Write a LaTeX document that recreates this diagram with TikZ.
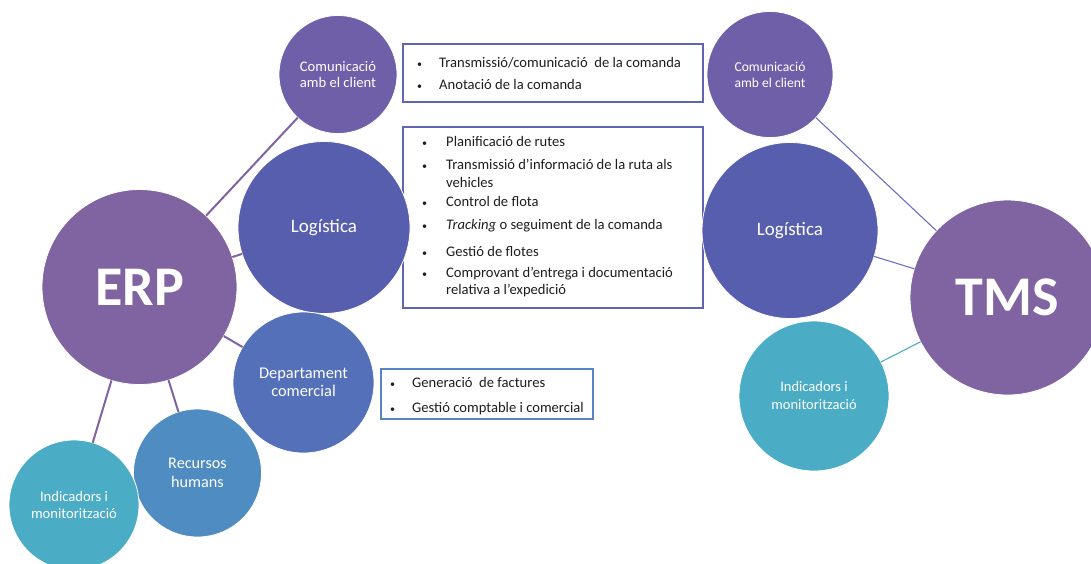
\documentclass[tikz,border=0pt]{standalone}
\usepackage{fontspec}
\setmainfont{Carlito}
\definecolor{cPurple}{HTML}{8064A2}
\definecolor{cComm}{HTML}{6F5FA8}
\definecolor{cLog}{HTML}{585EAE}
\definecolor{cDept}{HTML}{5470B9}
\definecolor{cHR}{HTML}{4F8CC1}
\definecolor{cInd}{HTML}{4BACC6}
\definecolor{cBoxA}{HTML}{5F64B4}
\definecolor{cBoxB}{HTML}{5B82C2}
\definecolor{cText}{HTML}{1E1E1E}
\definecolor{cLineT}{HTML}{6C6EC0}
\newcommand{\fs}[2]{\fontsize{#1}{#2}\selectfont}
\begin{document}
\begin{tikzpicture}[x=1pt,y=-1pt,
  bubble/.style={circle, inner sep=0pt, outer sep=0pt, draw=white,
    line width=0.8pt, text=white, align=center},
  bigword/.style={font=\fs{56}{60}\bfseries},
  infobox/.style={draw, line width=1.5pt, fill=white, anchor=north west,
    inner sep=0pt, outer sep=0pt},
  item/.style={anchor=west, inner sep=0pt, text=cText, font=\fs{14.6}{16},
    text height=9.4pt, text depth=0pt},
  dot/.style={anchor=west, inner sep=0pt, text=cText, font=\fs{10}{10},
    text height=7pt, text depth=0pt, yshift=-1.3pt},
  erpline/.style={draw=cPurple, line width=2pt},
  tmsline/.style={line width=1.1pt}]
\useasboundingbox (0,0) rectangle (1091,563);
\clip (0,0) rectangle (1091,563);

% detail boxes (drawn first, circles overlap their edges)
\node[infobox, draw=cBoxA, minimum width=300, minimum height=58] (box1) at (403,44) {};
\node[infobox, draw=cBoxA, minimum width=300, minimum height=181] (box2) at (403,127) {};
\node[infobox, draw=cBoxB, minimum width=212, minimum height=50] (box3) at (381,369) {};

% box 1: client communication
\node[dot] (d11) at (417,62.5) {•};
\node[item] (t11) at (439,62.5) {Transmissió/comunicació\ \ de la comanda};
\node[dot] (d12) at (417,84.5) {•};
\node[item] (t12) at (439,84.5) {Anotació de la comanda};

% box 2: logistics
\node[dot] (d21) at (422,141.5) {•};
\node[item] (t21) at (446,141.5) {Planificació de rutes};
\node[dot] (d22) at (422,164.5) {•};
\node[item] (t22) at (446,164.5) {Transmissió d’informació de la ruta als};
\node[item] (t22b) at (446,182.5) {vehicles};
\node[dot] (d23) at (422,201.5) {•};
\node[item] (t23) at (446,201.5) {Control de flota};
\node[dot] (d24) at (422,224.5) {•};
\node[item] (t24) at (446,224.5) {\textit{Tracking} o seguiment de la comanda};
\node[dot] (d25) at (422,251.5) {•};
\node[item] (t25) at (446,251.5) {Gestió de flotes};
\node[dot] (d26) at (422,273) {•};
\node[item] (t26) at (446,273) {Comprovant d’entrega i documentació};
\node[item] (t26b) at (446,290) {relativa a l’expedició};

% box 3: commercial department
\node[dot] (d31) at (390,382.5) {•};
\node[item] (t31) at (412,382.5) {Generació\ \ de factures};
\node[dot] (d32) at (390,407.5) {•};
\node[item] (t32) at (412,407.5) {Gestió comptable i comercial};

% ERP cluster
\node[bubble, fill=cPurple, minimum size=195, bigword] (erp) at (139.5,287) {\raisebox{-3pt}{ERP}};
\node[bubble, fill=cComm, minimum size=118, font=\fs{14.6}{16}] (comE) at (338,74.5) {Comunicació\\amb el client};
\node[bubble, fill=cLog, minimum size=172, font=\fs{19}{22}] (logE) at (324,227.5) {Logística};
\node[bubble, fill=cDept, minimum size=141, font=\fs{16.4}{18}] (depE) at (303.5,382.5) {Departament\\comercial};
\node[bubble, fill=cHR, minimum size=128, font=\fs{16.2}{19}] (recE) at (197.5,473) {Recursos\\humans};
\node[bubble, fill=cInd, minimum size=130, font=\fs{14.6}{17}] (indE) at (74,505) {Indicadors i\\monitorització};

% TMS cluster
\node[bubble, fill=cComm, minimum size=126, font=\fs{13.6}{16}] (comT) at (770,74.5) {Comunicació\\amb el client};
\node[bubble, fill=cLog, minimum size=176, font=\fs{19}{22}] (logT) at (790,230.5) {Logística};
\node[bubble, fill=cPurple, minimum size=195, bigword] (tms) at (1007.5,297.5) {\raisebox{-5pt}{TMS}};
\node[bubble, fill=cInd, minimum size=150, font=\fs{14.5}{18}] (indT) at (814,396) {Indicadors i\\monitorització};

% connectors
\draw[erpline] (erp) -- (comE);
\draw[erpline] (erp) -- (logE);
\draw[erpline] (erp) -- (depE);
\draw[erpline] (erp) -- (recE);
\draw[erpline] (erp) -- (indE);
\draw[tmsline, draw=cLineT] (tms) -- (comT);
\draw[tmsline, draw=cLineT] (tms) -- (logT);
\draw[tmsline, draw=cInd] (tms) -- (indT);
\end{tikzpicture}
\end{document}
